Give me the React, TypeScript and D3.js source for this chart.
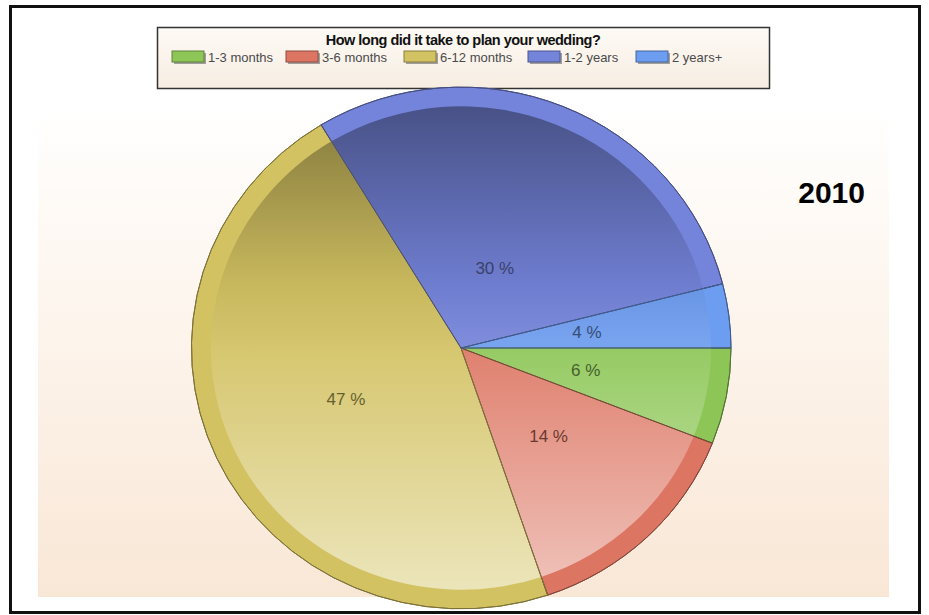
import React from "react";
import * as d3 from "d3";

const categories = ["1-3 months", "3-6 months", "6-12 months", "1-2 years", "2 years+"];
const values = [6, 14, 47, 30, 4];
const colors = ["#8dc656", "#dc7562", "#d3c262", "#7584db", "#6d9df0"];
const labels = ["6 %", "14 %", "47 %", "30 %", "4 %"];
const title = "How long did it take to plan your wedding?";
const yearLabel = "2010";

const W = 929;
const H = 615;
const cx = 461;
const cy = 348;
const rx = 270;
const ry = 261;

export default function App() {
  const pie = d3
    .pie<number>()
    .sort(null)
    .startAngle(Math.PI / 2)
    .endAngle(Math.PI / 2 + Math.PI * 2)(values);
  const outerArc = d3.arc<d3.PieArcDatum<number>>().innerRadius(0).outerRadius(1);
  const innerArc = d3.arc<d3.PieArcDatum<number>>().innerRadius(0).outerRadius(0.926);

  const legendX = d3.scaleOrdinal<string, number>().domain(categories).range([172, 286, 404, 528, 636]);

  const labelPos = (d: d3.PieArcDatum<number>, i: number) => {
    const a = (d.startAngle + d.endAngle) / 2;
    const f = i === 3 ? 0.33 : 0.47;
    return [cx + rx * f * Math.sin(a), cy - ry * f * Math.cos(a)];
  };

  return (
    <svg width={W} height={H} style={{ position: "absolute", left: 0, top: 0 }}>
      <defs>
        <linearGradient id="bg" x1="0" y1="0" x2="0" y2="1">
          <stop offset="0" stopColor="#ffffff" />
          <stop offset="0.25" stopColor="#fef9f4" />
          <stop offset="1" stopColor="#f9e7d6" />
        </linearGradient>
        <linearGradient id="lg" x1="0" y1="0" x2="0" y2="1">
          <stop offset="0" stopColor="#fdfaf5" />
          <stop offset="1" stopColor="#f7ede2" />
        </linearGradient>
        {colors.map((c, i) => (
          <linearGradient key={i} id={`sg${i}`} gradientUnits="userSpaceOnUse" x1="0" y1="-1" x2="0" y2="1">
            <stop offset="0" stopColor={d3.interpolateRgb(c, "#000")(0.42)} />
            <stop offset="0.38" stopColor={d3.interpolateRgb(c, "#000")(0.05)} />
            <stop offset="0.52" stopColor={d3.interpolateRgb(c, "#fff")(0.1)} />
            <stop offset="1" stopColor={d3.interpolateRgb(c, "#fff")(0.6)} />
          </linearGradient>
        ))}
      </defs>
      <rect x={0} y={0} width={W} height={H} fill="#ffffff" />
      <rect x={10.5} y={6.5} width={909} height={606} fill="none" stroke="#111" strokeWidth={3} />
      <rect x={38} y={108} width={851} height={489} fill="url(#bg)" />

      {/* Legend */}
      <rect x={157.5} y={27.5} width={612} height={61} fill="url(#lg)" stroke="#333" strokeWidth={1.5} />
      <text x={463} y={45} textAnchor="middle" fontFamily="Liberation Sans, Arial, sans-serif" fontWeight="bold" fontSize={14.5} fill="#111" letterSpacing={-0.5}>
        {title}
      </text>
      {categories.map((c, i) => (
        <g key={c}>
          <rect x={legendX(c) + 2} y={53} width={32} height={11} fill="#666" opacity={0.6} />
          <rect x={legendX(c)} y={51} width={32} height={11} fill={colors[i]} stroke={d3.color(colors[i])!.darker(1.2).toString()} strokeWidth={1} />
          <text x={legendX(c) + 36} y={62} fontFamily="Liberation Sans, Arial, sans-serif" fontSize={13} fill="#4a4a4a">
            {c}
          </text>
        </g>
      ))}

      <text x={865} y={203} textAnchor="end" fontFamily="Liberation Sans, Arial, sans-serif" fontWeight="bold" fontSize={30} fill="#000">
        {yearLabel}
      </text>

      {/* Pie */}
      <g transform={`translate(${cx},${cy}) scale(${rx},${ry})`}>
        {pie.map((d, i) => (
          <path key={`o${i}`} d={outerArc(d)!} fill={colors[i]} stroke={d3.color(colors[i])!.darker(1.3).toString()} strokeWidth={1} vectorEffect="non-scaling-stroke" />
        ))}
        {pie.map((d, i) => (
          <path key={`i${i}`} d={innerArc(d)!} fill={`url(#sg${i})`} stroke="none" />
        ))}
        {pie.map((d, i) => (
          <path key={`e${i}`} d={outerArc(d)!} fill="none" stroke={d3.color(colors[i])!.darker(1.5).toString()} strokeWidth={1} vectorEffect="non-scaling-stroke" />
        ))}
      </g>
      {pie.map((d, i) => {
        const [x, y] = labelPos(d, i);
        return (
          <text key={`t${i}`} x={x} y={y} textAnchor="middle" dominantBaseline="central" fontFamily="Liberation Sans, Arial, sans-serif" fontSize={17} fill={d3.color(colors[i])!.darker(2).toString()}>
            {labels[i]}
          </text>
        );
      })}
    </svg>
  );
}
